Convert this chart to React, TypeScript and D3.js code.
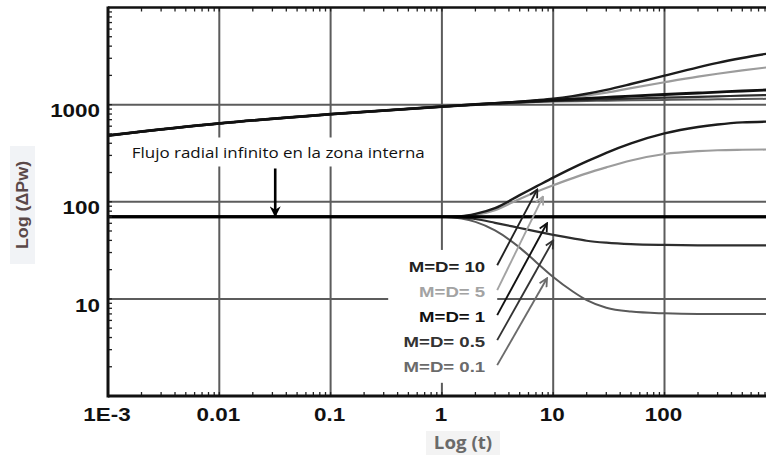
import React from "react";
import * as d3 from "d3";

// ---------- data ----------
const T = [0.001, 0.01, 0.1, 1, 1.5, 2, 3, 5, 7, 10, 15, 20, 30, 50, 100, 200, 300, 500, 1000];

// Pressure curves (upper family)
const P_M10 = [481, 640, 797, 955, 984, 1006, 1035, 1075, 1108, 1150, 1225, 1295, 1420, 1630, 1990, 2420, 2690, 3020, 3460];
const P_M5 = [481, 640, 797, 955, 984, 1005, 1033, 1068, 1096, 1135, 1190, 1240, 1330, 1480, 1700, 1940, 2080, 2250, 2480];
const P_M1 = [481, 640, 797, 955, 983, 1003, 1030, 1065, 1089, 1113, 1141, 1160, 1188, 1223, 1271, 1318, 1346, 1381, 1429];
const P_M05 = [481, 640, 797, 955, 982, 1001, 1025, 1055, 1075, 1090, 1108, 1120, 1135, 1155, 1180, 1203, 1217, 1235, 1260];
const P_M01 = [481, 640, 797, 955, 981, 999, 1020, 1045, 1062, 1075, 1085, 1090, 1098, 1106, 1118, 1128, 1133, 1140, 1150];

// Derivative curves (lower family)
const D_M10 = [70, 70, 70, 70, 71, 75, 86, 117, 143, 177, 223, 260, 319, 399, 505, 588, 624, 656, 670];
const D_M5 = [70, 70, 70, 70, 71, 73, 82, 107, 126, 148, 175, 196, 226, 266, 310, 332, 339, 343, 346];
const D_M1 = [70, 70, 70, 70, 70, 70, 70, 70, 70, 70, 70, 70, 70, 70, 70, 70, 70, 70, 70];
const D_M05 = [70, 70, 70, 70, 69.2, 66.4, 60.7, 53.7, 49.5, 45.6, 41.9, 39.7, 37.9, 36.6, 35.9, 35.6, 35.5, 35.5, 35.5];
const D_M01 = [70, 70, 70, 70, 67.2, 62.1, 50.7, 33.7, 24.0, 16.8, 11.9, 9.7, 8.1, 7.4, 7.1, 7.0, 7.0, 7.0, 7.0];

const SERIES_NAMES = ["M=D= 10", "M=D= 5", "M=D= 1", "M=D= 0.5", "M=D= 0.1"];

const X_TICKS = [0.001, 0.01, 0.1, 1, 10, 100];
const X_TICK_LABELS = ["1E-3", "0.01", "0.1", "1", "10", "100"];
const Y_TICKS = [10, 100, 1000];
const Y_TICK_LABELS = ["10", "100", "1000"];

// annotation arrows (data space: [t, value])
const ARROW_FROM = [[3.14, 22.2], [3.14, 12.3], [3.14, 6.8], [3.14, 3.76], [3.14, 2.08]];
const ARROW_TO = [[7.2, 134], [8.1, 113], [8.8, 60], [10, 40], [8.8, 16.3]];

const FLOW_LABEL = "Flujo radial infinito en la zona interna";
const FLOW_ARROW = [[0.0318, 220], [0.0318, 78]];
const FLOW_LEVEL = 70;

const X_TITLE = "Log (t)";
const Y_TITLE = "Log (ΔPw)";

// ---------- styles ----------
const W = 766;
const H = 457;
const STYLES = [
  { color: "#1c1c1c", width: 2.4, label: "#222" },
  { color: "#9c9c9c", width: 2.2, label: "#a3a3a3" },
  { color: "#111111", width: 2.8, label: "#111" },
  { color: "#2e2e2e", width: 2.2, label: "#333" },
  { color: "#5a5a5a", width: 2.0, label: "#6b6b6b" },
];
const PRESSURE = [P_M10, P_M5, P_M1, P_M05, P_M01];
const DERIV = [D_M10, D_M5, D_M1, D_M05, D_M01];
const DRAW_ORDER = [4, 3, 1, 0, 2];

export default function App() {
  const x = d3.scaleLog().domain([1e-3, 1e3]).range([108, 775.8]);
  const y = d3.scaleLog().domain([1, 1e4]).range([396, 7.5]);
  const left = 108, bottom = 396, top = 7.5, right = W;

  const line = d3
    .line<number>()
    .x((_, i) => x(T[i]))
    .y((d) => y(d))
    .curve(d3.curveMonotoneX);

  const xMinor = x.ticks().filter((t) => t > 1e-3 * 1.01 && t < 1e3);
  const yMinor = y.ticks().filter((v) => v > 1.01 && v < 1e4 * 0.99);

  const gridColor = "#5c5c5c";
  const tickFont = "'Liberation Sans', Arial, sans-serif";

  // label box (white, hides grid lines)
  const arrowStartX = x(ARROW_FROM[0][0]);
  const labelRight = arrowStartX - 12;
  const firstBase = y(ARROW_FROM[0][1]) + 6.7;
  const lastBase = y(ARROW_FROM[4][1]) + 6.7;

  const flowX = x(FLOW_ARROW[0][0]);
  const flowTextY = y(FLOW_ARROW[0][1]) - 10;

  return (
    <div style={{ position: "absolute", left: 0, top: 0, width: W, height: H, background: "#fff" }}>
      <svg width={W} height={H} viewBox={`0 0 ${W} ${H}`} style={{ display: "block" }}>
        <defs>
          <clipPath id="plot">
            <rect x={left} y={top} width={right - left} height={bottom - top} />
          </clipPath>
          {STYLES.map((s, i) => (
            <marker
              key={i}
              id={`ah${i}`}
              viewBox="0 0 10 10"
              refX={9}
              refY={5}
              markerWidth={10}
              markerHeight={10}
              markerUnits="userSpaceOnUse"
              orient="auto"
            >
              <path d="M1,1 L9,5 L1,9" fill="none" stroke={s.label} strokeWidth={1.8} />
            </marker>
          ))}
          <marker
            id="flowHead"
            viewBox="0 0 10 10"
            refX={9}
            refY={5}
            markerWidth={11}
            markerHeight={11}
            markerUnits="userSpaceOnUse"
            orient="auto"
          >
            <path d="M0,0 L10,5 L0,10 L3,5 Z" fill="#000" />
          </marker>
        </defs>

        {/* grid lines */}
        {X_TICKS.slice(1).map((t) => (
          <line key={"gx" + t} x1={x(t)} x2={x(t)} y1={top} y2={bottom} stroke={gridColor} strokeWidth={2} />
        ))}
        {Y_TICKS.map((v) => (
          <line key={"gy" + v} x1={left} x2={right} y1={y(v)} y2={y(v)} stroke={gridColor} strokeWidth={2} />
        ))}

        {/* white boxes behind the annotations */}
        <rect x={labelRight - 97} y={firstBase - 22} width={arrowStartX - (labelRight - 97)} height={lastBase + 11 - (firstBase - 22)} fill="#fff" />
        <rect x={flowX - 148} y={flowTextY - 21} width={302} height={29} fill="#fff" />

        {/* curves */}
        <g clipPath="url(#plot)">
          {DRAW_ORDER.map((i) => (
            <path key={"p" + i} d={line(PRESSURE[i]) || ""} fill="none" stroke={STYLES[i].color} strokeWidth={STYLES[i].width} />
          ))}
          {DRAW_ORDER.map((i) => (
            <path key={"d" + i} d={line(DERIV[i]) || ""} fill="none" stroke={STYLES[i].color} strokeWidth={STYLES[i].width} />
          ))}
          <line x1={left} x2={right} y1={y(FLOW_LEVEL)} y2={y(FLOW_LEVEL)} stroke="#000" strokeWidth={3} />
        </g>

        {/* minor ticks */}
        {xMinor.map((t, i) => (
          <g key={"xt" + i}>
            <line x1={x(t)} x2={x(t)} y1={bottom} y2={bottom - 4} stroke="#222" strokeWidth={1.3} />
            <line x1={x(t)} x2={x(t)} y1={top} y2={top + 4} stroke="#222" strokeWidth={1.3} />
          </g>
        ))}
        {yMinor.map((v, i) => (
          <line key={"yt" + i} x1={left} x2={left + 4} y1={y(v)} y2={y(v)} stroke="#222" strokeWidth={1.3} />
        ))}

        {/* axes frame */}
        <line x1={left} x2={right} y1={top} y2={top} stroke="#111" strokeWidth={2.6} />
        <line x1={left} x2={right} y1={bottom} y2={bottom} stroke="#111" strokeWidth={3} />
        <line x1={left} x2={left} y1={top - 1} y2={bottom + 1.5} stroke="#111" strokeWidth={3} />

        {/* tick labels */}
        {Y_TICKS.map((v, i) => (
          <text
            key={"yl" + v}
            transform={`translate(100,${y(v) + 6}) scale(1.18,1)`}
            textAnchor="end"
            dy="0.35em"
            fontFamily={tickFont}
            fontWeight="bold"
            fontSize={19}
            fill="#111"
          >
            {Y_TICK_LABELS[i]}
          </text>
        ))}
        {X_TICKS.map((t, i) => (
          <text
            key={"xl" + t}
            transform={`translate(${x(t) - 1},421) scale(1.18,1)`}
            textAnchor="middle"
            fontFamily={tickFont}
            fontWeight="bold"
            fontSize={19}
            fill="#111"
          >
            {X_TICK_LABELS[i]}
          </text>
        ))}

        {/* axis titles */}
        <rect x={426} y={431} width={74} height={24} fill="#f3f3f3" />
        <text
          transform="translate(463,449) scale(1.1,1)"
          textAnchor="middle"
          fontFamily="'Open Sans', sans-serif"
          fontWeight="bold"
          fontSize={17}
          fill="#6a6a6a"
        >
          {X_TITLE}
        </text>
        <rect x={10} y={146} width={25} height={118} fill="#f1f3f6" />
        <text
          transform="translate(28,205) rotate(-90) scale(1.05,1)"
          textAnchor="middle"
          fontFamily={tickFont}
          fontWeight="bold"
          fontSize={17}
          fill="#5a4848"
        >
          {Y_TITLE}
        </text>

        {/* series annotation arrows and labels */}
        {ARROW_FROM.map((f, i) => {
          const x1 = x(f[0]), y1 = y(f[1]);
          const x2 = x(ARROW_TO[i][0]), y2 = y(ARROW_TO[i][1]);
          return (
            <g key={"ar" + i}>
              <line x1={x1} y1={y1} x2={x2} y2={y2} stroke={STYLES[i].label} strokeWidth={1.9} markerEnd={`url(#ah${i})`} />
              <text
                transform={`translate(${x1 - 12},${y1 + 6.7}) scale(1.2,1)`}
                textAnchor="end"
                fontFamily={tickFont}
                fontWeight="bold"
                fontSize={15.5}
                fill={STYLES[i].label}
              >
                {SERIES_NAMES[i]}
              </text>
            </g>
          );
        })}

        {/* infinite radial flow annotation */}
        <text
          x={flowX + 3}
          y={flowTextY}
          textAnchor="middle"
          fontFamily="'Open Sans', sans-serif"
          fontSize={14}
          textLength={293}
          lengthAdjust="spacingAndGlyphs"
          fill="#111"
        >
          {FLOW_LABEL}
        </text>
        <line
          x1={flowX}
          x2={flowX}
          y1={y(FLOW_ARROW[0][1])}
          y2={y(FLOW_ARROW[1][1]) + 4}
          stroke="#000"
          strokeWidth={2.6}
          markerEnd="url(#flowHead)"
        />
      </svg>
    </div>
  );
}
